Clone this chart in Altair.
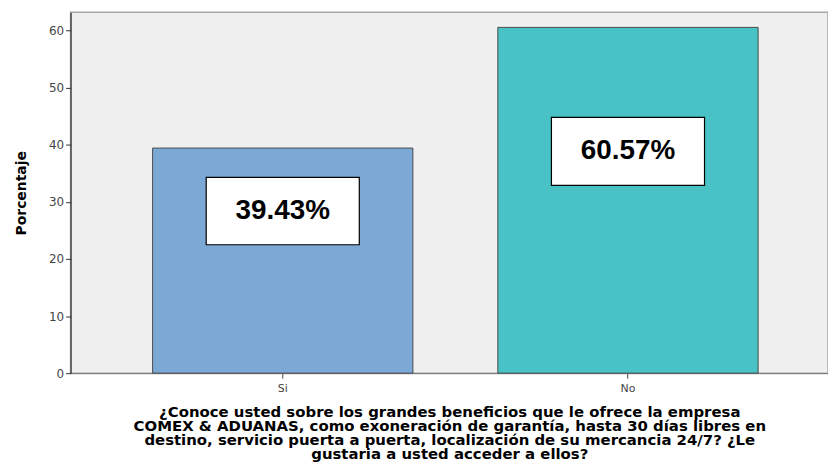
import altair as alt
import pandas as pd

# Survey answers and their share of respondents
categories = ["Si", "No"]
percent = [39.43, 60.57]
value_labels = ["39.43%", "60.57%"]
bar_colors = ["#7BA8D5", "#48C2C5"]

# Placement of the white annotation boxes (in percent units on the y scale)
box_layout = {"top": [34.3, 44.8], "bottom": [22.5, 32.9]}

question = [
    "¿Conoce usted sobre los grandes beneficios que le ofrece la empresa",
    "COMEX & ADUANAS, como exoneración de garantía, hasta 30 días libres en",
    "destino, servicio puerta a puerta, localización de su mercancia 24/7? ¿Le",
    "gustaria a usted acceder a ellos?",
]

df = pd.DataFrame({
    "respuesta": categories,
    "porcentaje": percent,
    "etiqueta": value_labels,
    "box_top": box_layout["top"],
    "box_bottom": box_layout["bottom"],
})

x_scale = alt.Scale(domain=categories, paddingInner=0.246, paddingOuter=0.22, align=0.54)
y_scale = alt.Scale(domain=[0, 63.2], nice=False)

x_enc = alt.X(
    "respuesta:N",
    scale=x_scale,
    sort=categories,
    axis=alt.Axis(
        title=question,
        labelAngle=0,
        labelFont="DejaVu Sans",
        labelFontSize=11,
        labelColor="#444444",
        labelPadding=4,
        tickColor="#444444",
        tickSize=5,
        domainColor="#777777",
        titleFont="DejaVu Sans",
        titleFontSize=15,
        titleFontWeight="bold",
        titleColor="#000000",
        titleLineHeight=14,
        titlePadding=12,
    ),
)

bars = alt.Chart(df).mark_bar(stroke="#4a4a4a", strokeWidth=1).encode(
    x=x_enc,
    y=alt.Y(
        "porcentaje:Q",
        scale=y_scale,
        axis=alt.Axis(
            title="Porcentaje",
            values=[0, 10, 20, 30, 40, 50, 60],
            grid=False,
            labelFont="DejaVu Sans",
            labelFontSize=12,
            labelColor="#444444",
            labelPadding=2,
            tickColor="#333333",
            tickSize=5,
            domainColor="#111111",
            titleFont="DejaVu Sans",
            titleFontSize=14,
            titleFontWeight="bold",
            titleColor="#000000",
            titlePadding=20,
        ),
    ),
    color=alt.Color("respuesta:N", scale=alt.Scale(domain=categories, range=bar_colors), legend=None),
)

boxes = alt.Chart(df).mark_bar(
    fill="white", stroke="#000000", strokeWidth=1.2, width=154
).encode(
    x=alt.X("respuesta:N", scale=x_scale, sort=categories),
    y=alt.Y("box_bottom:Q", scale=y_scale),
    y2="box_top:Q",
)

texts = alt.Chart(df).transform_calculate(
    mid="(datum.box_top + datum.box_bottom) / 2"
).mark_text(
    font="Liberation Sans", fontSize=28, fontWeight="bold", color="#000000", baseline="middle"
).encode(
    x=alt.X("respuesta:N", scale=x_scale, sort=categories),
    y=alt.Y("mid:Q", scale=y_scale),
    text="etiqueta:N",
)

chart = alt.layer(bars, boxes, texts).properties(
    width=762,
    height=363,
    autosize=alt.AutoSizeParams(type="none"),
    padding={"left": 71, "top": 11, "right": 0, "bottom": 102},
    background="white",
).configure_view(
    fill="#F0F0F0", stroke="#A8A8A8", strokeWidth=1.5
)

chart.save("out.html", embed_options={"renderer": "svg", "actions": False})
